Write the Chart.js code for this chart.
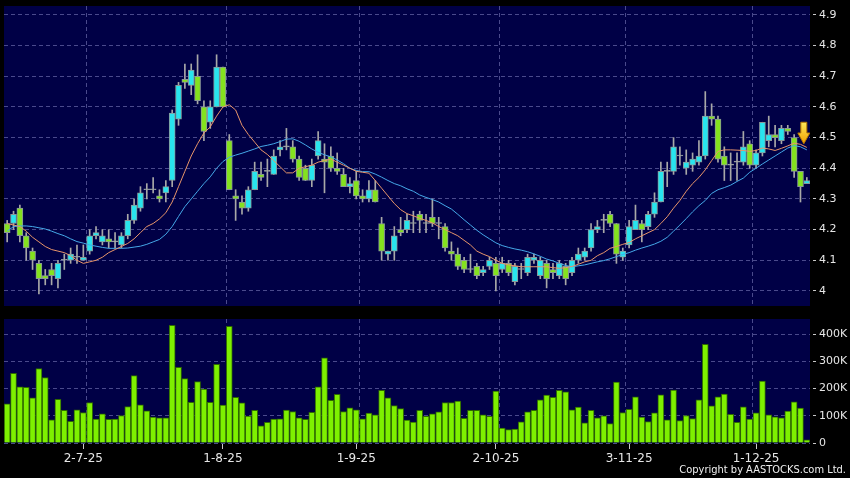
<!DOCTYPE html>
<html>
<head>
<meta charset="utf-8">
<script src="https://cdn.jsdelivr.net/npm/chart.js@4.4.1/dist/chart.umd.min.js"></script>
<style>
    html, body { margin: 0; padding: 0; background: #000; }
    #wrap { position: relative; width: 850px; height: 478px; overflow: hidden; background: #000; }
    #pbox { position: absolute; left: 0; top: 0; width: 850px; height: 312px; }
    #vbox { position: absolute; left: 0; top: 312px; width: 850px; height: 166px; }
    #copy { position: absolute; right: 4px; top: 463px; color: #f0f0f0; font: 11px "DejaVu Sans Condensed", "DejaVu Sans", sans-serif; }
</style>
</head>
<body>
<div id="wrap">
    <div id="pbox"><canvas id="price"></canvas></div>
    <div id="vbox"><canvas id="vol"></canvas></div>
    <div id="copy">Copyright by AASTOCKS.com Ltd.</div>
</div>
<script>
// дневные свечи: open / high / low / close
const opens = [4.22, 4.22, 4.27, 4.18, 4.13, 4.09, 4.05, 4.07, 4.04, 4.10,
    4.10, 4.11, 4.10, 4.13, 4.18, 4.16, 4.17, 4.16, 4.15, 4.18,
    4.23, 4.27, 4.33, 4.33, 4.31, 4.32, 4.36, 4.56, 4.69, 4.67,
    4.70, 4.60, 4.55, 4.60, 4.73, 4.49, 4.31, 4.29, 4.27, 4.33,
    4.38, 4.39, 4.38, 4.46, 4.47, 4.47, 4.43, 4.40, 4.36, 4.44,
    4.43, 4.44, 4.40, 4.38, 4.34, 4.36, 4.31, 4.30, 4.33, 4.22,
    4.12, 4.13, 4.20, 4.20, 4.22, 4.25, 4.22, 4.24, 4.22, 4.21,
    4.13, 4.12, 4.10, 4.07, 4.08, 4.06, 4.08, 4.09, 4.07, 4.09,
    4.03, 4.07, 4.06, 4.10, 4.05, 4.09, 4.07, 4.05, 4.08, 4.06,
    4.10, 4.11, 4.14, 4.20, 4.23, 4.25, 4.22, 4.11, 4.15, 4.20,
    4.22, 4.21, 4.25, 4.29, 4.39, 4.39, 4.44, 4.40, 4.41, 4.42,
    4.44, 4.57, 4.56, 4.44, 4.41, 4.42, 4.42, 4.48, 4.41, 4.45,
    4.49, 4.51, 4.49, 4.53, 4.50, 4.39, 4.35];
const highs = [4.23, 4.26, 4.28, 4.19, 4.14, 4.10, 4.07, 4.09, 4.10, 4.12,
    4.14, 4.15, 4.15, 4.20, 4.21, 4.20, 4.20, 4.19, 4.19, 4.25,
    4.30, 4.34, 4.35, 4.37, 4.33, 4.36, 4.59, 4.68, 4.74, 4.74,
    4.77, 4.62, 4.62, 4.77, 4.73, 4.51, 4.33, 4.31, 4.34, 4.42,
    4.42, 4.43, 4.46, 4.49, 4.53, 4.49, 4.44, 4.41, 4.43, 4.52,
    4.48, 4.47, 4.45, 4.40, 4.37, 4.39, 4.33, 4.36, 4.36, 4.24,
    4.13, 4.21, 4.24, 4.25, 4.26, 4.26, 4.25, 4.30, 4.24, 4.22,
    4.16, 4.14, 4.11, 4.12, 4.09, 4.08, 4.11, 4.11, 4.11, 4.10,
    4.09, 4.09, 4.12, 4.12, 4.11, 4.10, 4.09, 4.10, 4.09, 4.11,
    4.14, 4.14, 4.22, 4.23, 4.25, 4.26, 4.22, 4.14, 4.23, 4.28,
    4.23, 4.26, 4.32, 4.42, 4.42, 4.50, 4.47, 4.46, 4.45, 4.49,
    4.65, 4.61, 4.57, 4.47, 4.45, 4.45, 4.52, 4.49, 4.46, 4.55,
    4.57, 4.54, 4.54, 4.54, 4.51, 4.39, 4.37];
const lows = [4.16, 4.20, 4.16, 4.10, 4.07, 3.99, 4.02, 4.02, 4.01, 4.07,
    4.09, 4.09, 4.10, 4.12, 4.17, 4.15, 4.14, 4.14, 4.14, 4.17,
    4.22, 4.26, 4.30, 4.32, 4.29, 4.29, 4.34, 4.54, 4.66, 4.64,
    4.61, 4.49, 4.53, 4.60, 4.60, 4.33, 4.23, 4.25, 4.26, 4.33,
    4.36, 4.34, 4.38, 4.44, 4.46, 4.42, 4.36, 4.36, 4.34, 4.43,
    4.32, 4.39, 4.38, 4.34, 4.32, 4.30, 4.29, 4.29, 4.29, 4.10,
    4.10, 4.10, 4.18, 4.19, 4.19, 4.19, 4.19, 4.21, 4.17, 4.13,
    4.10, 4.07, 4.06, 4.06, 4.04, 4.05, 4.07, 4.00, 4.06, 4.05,
    4.02, 4.04, 4.05, 4.09, 4.04, 4.01, 4.04, 4.04, 4.02, 4.05,
    4.09, 4.10, 4.13, 4.19, 4.19, 4.21, 4.09, 4.10, 4.14, 4.20,
    4.16, 4.20, 4.24, 4.29, 4.34, 4.38, 4.41, 4.38, 4.39, 4.41,
    4.43, 4.54, 4.42, 4.36, 4.36, 4.36, 4.41, 4.40, 4.40, 4.44,
    4.47, 4.47, 4.48, 4.51, 4.37, 4.29, 4.35];
const closes = [4.19, 4.25, 4.18, 4.14, 4.10, 4.04, 4.04, 4.05, 4.09, 4.10,
    4.12, 4.11, 4.11, 4.18, 4.19, 4.18, 4.16, 4.16, 4.18, 4.23,
    4.28, 4.32, 4.33, 4.33, 4.30, 4.34, 4.58, 4.67, 4.68, 4.72,
    4.62, 4.52, 4.60, 4.73, 4.60, 4.33, 4.30, 4.27, 4.33, 4.39,
    4.37, 4.39, 4.44, 4.47, 4.47, 4.43, 4.37, 4.36, 4.41, 4.49,
    4.42, 4.40, 4.39, 4.34, 4.35, 4.31, 4.30, 4.33, 4.29, 4.13,
    4.13, 4.18, 4.19, 4.23, 4.22, 4.23, 4.22, 4.22, 4.22, 4.14,
    4.12, 4.08, 4.07, 4.07, 4.05, 4.07, 4.10, 4.05, 4.09, 4.06,
    4.08, 4.07, 4.11, 4.11, 4.10, 4.04, 4.06, 4.09, 4.04, 4.10,
    4.12, 4.13, 4.20, 4.21, 4.23, 4.22, 4.12, 4.13, 4.21, 4.23,
    4.20, 4.25, 4.29, 4.39, 4.39, 4.47, 4.44, 4.42, 4.43, 4.44,
    4.57, 4.56, 4.43, 4.41, 4.41, 4.42, 4.47, 4.41, 4.45, 4.55,
    4.51, 4.50, 4.53, 4.52, 4.39, 4.34, 4.36];

// скользящие средние
const maShort = [4.220, 4.215, 4.210, 4.195, 4.175, 4.160, 4.145, 4.135, 4.130, 4.125,
    4.115, 4.100, 4.090, 4.095, 4.100, 4.110, 4.125, 4.135, 4.145, 4.155,
    4.170, 4.190, 4.210, 4.220, 4.235, 4.255, 4.290, 4.340, 4.390, 4.440,
    4.480, 4.515, 4.535, 4.570, 4.600, 4.607, 4.590, 4.540, 4.510, 4.485,
    4.460, 4.445, 4.425, 4.405, 4.385, 4.385, 4.400, 4.405, 4.410, 4.420,
    4.425, 4.430, 4.420, 4.410, 4.400, 4.390, 4.387, 4.384, 4.360, 4.335,
    4.310, 4.285, 4.265, 4.252, 4.245, 4.237, 4.230, 4.222, 4.210, 4.200,
    4.190, 4.180, 4.165, 4.150, 4.130, 4.120, 4.112, 4.100, 4.090, 4.085,
    4.082, 4.079, 4.079, 4.079, 4.079, 4.079, 4.076, 4.074, 4.076, 4.080,
    4.087, 4.095, 4.100, 4.115, 4.125, 4.139, 4.145, 4.152, 4.158, 4.170,
    4.180, 4.190, 4.200, 4.220, 4.242, 4.270, 4.295, 4.325, 4.350, 4.370,
    4.395, 4.425, 4.455, 4.460, 4.460, 4.459, 4.458, 4.455, 4.458, 4.466,
    4.463, 4.458, 4.465, 4.473, 4.482, 4.478, 4.468];
const maLong = [4.195, 4.210, 4.212, 4.212, 4.210, 4.206, 4.202, 4.195, 4.187, 4.180,
    4.170, 4.161, 4.156, 4.150, 4.146, 4.142, 4.139, 4.139, 4.139, 4.140,
    4.143, 4.146, 4.152, 4.160, 4.168, 4.185, 4.210, 4.243, 4.275, 4.300,
    4.325, 4.350, 4.372, 4.400, 4.422, 4.436, 4.443, 4.449, 4.456, 4.463,
    4.471, 4.475, 4.480, 4.487, 4.495, 4.496, 4.488, 4.476, 4.463, 4.452,
    4.444, 4.437, 4.427, 4.415, 4.400, 4.393, 4.389, 4.389, 4.381, 4.371,
    4.360, 4.350, 4.343, 4.333, 4.325, 4.313, 4.305, 4.298, 4.290, 4.278,
    4.267, 4.250, 4.232, 4.215, 4.198, 4.183, 4.170, 4.157, 4.148, 4.142,
    4.137, 4.133, 4.128, 4.121, 4.113, 4.104, 4.098, 4.090, 4.083, 4.079,
    4.082, 4.085, 4.090, 4.095, 4.099, 4.105, 4.112, 4.119, 4.125, 4.133,
    4.140, 4.146, 4.153, 4.162, 4.175, 4.195, 4.215, 4.236, 4.258, 4.278,
    4.295, 4.318, 4.330, 4.337, 4.345, 4.357, 4.368, 4.387, 4.400, 4.414,
    4.427, 4.440, 4.453, 4.466, 4.474, 4.470, 4.460];

// объём, тыс. акций
const volumes = [144, 256, 207, 205, 166, 274, 241, 85, 161, 120,
    80, 122, 112, 149, 88, 107, 87, 88, 101, 134,
    248, 140, 118, 95, 93, 93, 433, 278, 237, 150,
    226, 198, 150, 289, 139, 429, 168, 148, 99, 120,
    63, 76, 88, 89, 121, 116, 93, 87, 113, 207,
    313, 157, 179, 116, 129, 122, 89, 110, 104, 194,
    166, 138, 127, 84, 77, 120, 98, 107, 115, 149,
    149, 154, 91, 120, 120, 104, 98, 191, 55, 49,
    51, 78, 115, 120, 159, 176, 168, 194, 188, 122,
    132, 74, 120, 93, 100, 71, 224, 112, 124, 170,
    95, 79, 111, 177, 85, 195, 82, 101, 90, 159,
    363, 137, 170, 180, 105, 76, 133, 88, 111, 228,
    104, 96, 93, 117, 151, 128, 12];

const tickLabels = ['2-7-25', '1-8-25', '1-9-25', '2-10-25', '3-11-25', '1-12-25'];
const labelAt = [12, 34, 55, 77, 98, 118];
const gridAt = [13, 35, 56, 78, 98, 118];
const priceTicks = [4.0, 4.1, 4.2, 4.3, 4.4, 4.5, 4.6, 4.7, 4.8, 4.9];
const volTicks = [0, 100, 200, 300, 400];
// жёлтая стрелка у последней свечи: индекс, верх, острие
const arrowMark = [126, 4.55, 4.48];

const NAVY = '#000046';
const GRID = '#4a4a8c';
const CYAN = '#28e4ee';
const GREEN = '#84e21e';
const TXT = '#e6e6e6';

const labels = closes.map((_, i) => i);
const wicks = lows.map((l, i) => [l, highs[i]]);
const bodies = opens.map((o, i) => [o, closes[i]]);
const bodyColors = opens.map((o, i) => closes[i] > o ? CYAN : (closes[i] < o ? GREEN : '#b0b0b0'));

const panelBg = {
    id: 'panelBg',
    beforeDraw(chart) {
        const {ctx, chartArea: a} = chart;
        ctx.save();
        ctx.fillStyle = NAVY;
        ctx.fillRect(a.left, a.top, a.right - a.left, a.bottom - a.top);
        ctx.restore();
    }
};

const arrowPlugin = {
    id: 'arrow',
    afterDatasetsDraw(chart) {
        const {ctx, scales} = chart;
        const cx = scales.x.getPixelForValue(arrowMark[0]) - 3;
        const top = scales.y.getPixelForValue(arrowMark[1]);
        const tip = scales.y.getPixelForValue(arrowMark[2]);
        const neck = top + (tip - top) * 0.5;
        ctx.save();
        const g = ctx.createLinearGradient(0, top, 0, tip);
        g.addColorStop(0, '#ffe85a');
        g.addColorStop(1, '#f0a000');
        ctx.fillStyle = g;
        ctx.strokeStyle = '#b87800';
        ctx.lineWidth = 1;
        ctx.beginPath();
        ctx.moveTo(cx - 3, top);
        ctx.lineTo(cx + 3, top);
        ctx.lineTo(cx + 3, neck);
        ctx.lineTo(cx + 6, neck);
        ctx.lineTo(cx, tip);
        ctx.lineTo(cx - 6, neck);
        ctx.lineTo(cx - 3, neck);
        ctx.closePath();
        ctx.fill();
        ctx.stroke();
        ctx.restore();
    }
};

const axisFont = {family: 'DejaVu Sans', size: 11};

// правая ось: фиксированная ширина, без лишних отступов сверху/снизу
function fitRight(s) {
    s.width = 40;
    s.paddingTop = 0;
    s.paddingBottom = 0;
}

const gridX = {
    type: 'category',
    offset: true,
    ticks: {display: false, autoSkip: false},
    grid: {
        offset: true,
        drawTicks: false,
        color: c => gridAt.includes(c.index) ? GRID : 'transparent'
    },
    border: {display: false, dash: [4, 3]},
    afterFit: s => { s.height = 0; s.paddingLeft = 0; s.paddingRight = 0; }
};

new Chart(document.getElementById('price'), {
    type: 'bar',
    data: {
        labels: labels,
        datasets: [
            {type: 'line', data: maShort, borderColor: '#e8956a', borderWidth: 1, pointRadius: 0, order: 0},
            {type: 'line', data: maLong, borderColor: '#45a8e8', borderWidth: 1, pointRadius: 0, order: 0},
            {
                data: bodies, backgroundColor: bodyColors, borderColor: '#8a9898', borderWidth: 1,
                borderSkipped: false, barThickness: 6, minBarLength: 1, grouped: false, order: 1
            },
            {data: wicks, backgroundColor: '#a8a8a8', borderWidth: 0, barThickness: 1, grouped: false, order: 2}
        ]
    },
    options: {
        responsive: true,
        maintainAspectRatio: false,
        animation: false,
        layout: {padding: {left: 4, top: 6, right: 0, bottom: 6}},
        plugins: {legend: {display: false}, tooltip: {enabled: false}},
        scales: {
            x: gridX,
            y: {
                position: 'right',
                min: 3.951,
                max: 4.929,
                afterBuildTicks: s => { s.ticks = priceTicks.map(v => ({value: v})); },
                ticks: {color: TXT, font: axisFont, padding: 3, callback: v => String(+v.toFixed(1))},
                grid: {color: GRID, tickColor: '#c8c8c8', tickLength: 6, tickBorderDash: [0, 3, 3, 10]},
                border: {display: false, dash: [4, 3]},
                afterFit: fitRight
            }
        }
    },
    plugins: [panelBg, arrowPlugin]
});

new Chart(document.getElementById('vol'), {
    type: 'bar',
    data: {
        labels: labels,
        datasets: [{
            data: volumes, backgroundColor: '#7ef000', borderColor: '#2f6a00', borderWidth: 1,
            barThickness: 6
        }]
    },
    options: {
        responsive: true,
        maintainAspectRatio: false,
        animation: false,
        layout: {padding: {left: 4, top: 7, right: 0, bottom: 0}},
        plugins: {legend: {display: false}, tooltip: {enabled: false}},
        scales: {
            x: gridX,
            xl: {
                type: 'category',
                position: 'bottom',
                offset: true,
                grid: {
                    offset: false,
                    drawOnChartArea: false,
                    tickLength: 6,
                    color: c => labelAt.includes(c.index) ? '#c8c8c8' : 'transparent'
                },
                border: {display: false},
                ticks: {
                    autoSkip: false, maxRotation: 0, padding: 3, color: TXT,
                    font: {family: 'DejaVu Sans', size: 12},
                    callback: (v, i) => {
                        const k = labelAt.indexOf(i);
                        return k < 0 ? '' : tickLabels[k];
                    }
                },
                afterFit: s => { s.height = 35; s.paddingLeft = 0; s.paddingRight = 0; }
            },
            y: {
                position: 'right',
                min: 0,
                max: 456,
                afterBuildTicks: s => { s.ticks = volTicks.map(v => ({value: v})); },
                ticks: {color: TXT, font: axisFont, padding: 3, callback: v => v ? v + 'K' : '0'},
                grid: {color: GRID, tickColor: '#c8c8c8', tickLength: 6, tickBorderDash: [0, 3, 3, 10]},
                border: {display: false, dash: [4, 3]},
                afterFit: fitRight
            }
        }
    },
    plugins: [panelBg]
});
</script>
</body>
</html>
